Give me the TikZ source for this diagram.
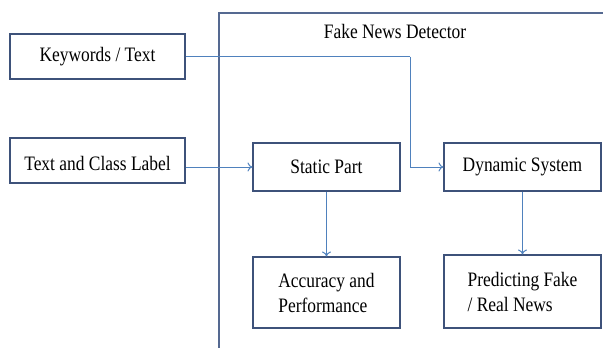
\documentclass[tikz,border=0pt]{standalone}
\usepackage{fontspec}
\setmainfont{Liberation Serif}[FakeStretch=0.85]
\usetikzlibrary{arrows.meta}
\definecolor{boxline}{RGB}{62,82,122}
\definecolor{arrowline}{RGB}{79,129,189}
\definecolor{frameline}{RGB}{85,105,145}

\begin{document}
\begin{tikzpicture}[x=1pt,y=-1pt,
	box/.style={draw=boxline, line width=1.1pt, inner sep=0pt, font=\fontsize{20.5}{25}\selectfont},
	arr/.style={draw=arrowline, line width=1pt, -{To[length=5pt,width=9pt]}},
	lin/.style={draw=arrowline, line width=1pt}]
		\useasboundingbox (0,0) rectangle (603,348);
		% outer frame of the detector
		\draw[frameline, line width=1.1pt] (219,348) -- (219,13) -- (603,13);
		\node (title) at (395,31) {\fontsize{20.5}{25}\selectfont Fake News Detector};

		\node (kw) [box, minimum width=175pt, minimum height=45pt] at (97.5,56.5) {Keywords / Text};
		\node (tcl) [box, minimum width=175pt, minimum height=45pt, text height=20pt] at (97.5,160.5) {Text and Class Label};

		\node (sp) [box, minimum width=147pt, minimum height=48pt] at (326.5,167) {Static Part};
		\node (dyn) [box, minimum width=157pt, minimum height=48pt] at (522.5,167) {Dynamic System};

		\node (acc) [box, minimum width=147pt, minimum height=71pt, align=left] at (326.5,292.5) {Accuracy and\\Performance};
		\node (pred) [box, minimum width=157pt, minimum height=73pt, align=left] at (522.5,291.5) {Predicting Fake\\/ Real News};

		\coordinate (bend) at (410,56.5);
		\draw[lin] (kw.east) -- (bend);
		\draw[arr] (bend) |- (dyn.west);
		\draw[arr] (tcl.east |- sp.west) -- (sp.west);
		\draw[arr] (sp) -- (acc);
		\draw[arr] (dyn) -- (pred);
	\end{tikzpicture}
\end{document}
